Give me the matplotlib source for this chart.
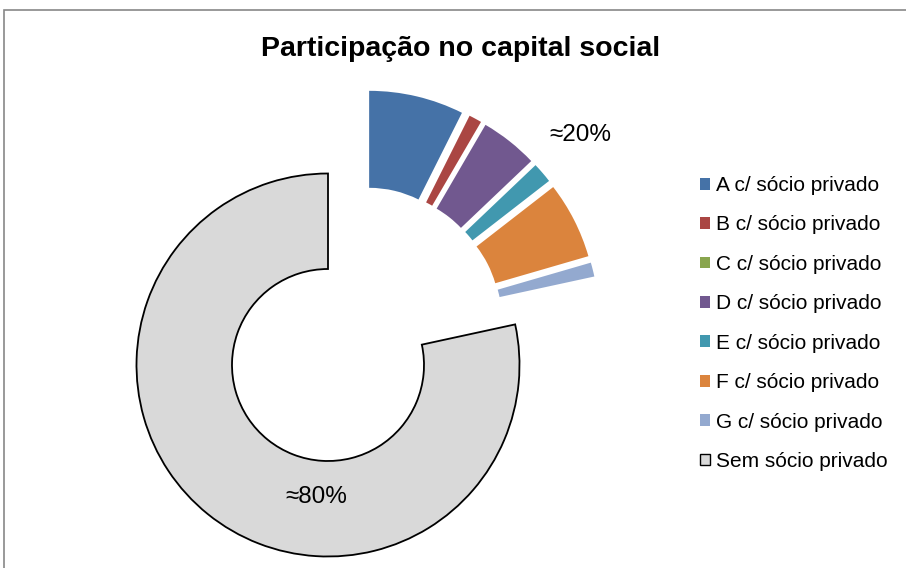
import matplotlib
matplotlib.use("Agg")
from matplotlib import pyplot as plt
from matplotlib.patches import Patch, Rectangle

plt.rcParams['font.family'] = ['Liberation Sans', 'DejaVu Sans']

# data (percent of companies)
labels = ["A c/ sócio privado", "B c/ sócio privado", "C c/ sócio privado",
          "D c/ sócio privado", "E c/ sócio privado", "F c/ sócio privado",
          "G c/ sócio privado", "Sem sócio privado"]
values = [7.4, 1.0, 0.0, 4.5, 1.6, 6.0, 1.1, 78.4]
colors = ["#4572A7", "#AA4643", "#89A54E", "#71588F", "#4198AF",
          "#DB843D", "#93A9CF", "#D9D9D9"]
title = "Participação no capital social"

fig = plt.figure(figsize=(9.06, 5.68), dpi=100)
ax = fig.add_axes([0, 0, 1, 1])

# gray ring (only the last slice visible)
w1, _ = ax.pie(values, startangle=90, counterclock=False,
               center=(328, 203), radius=191.5,
               wedgeprops=dict(width=95.5))
for i, w in enumerate(w1):
    if i == len(values) - 1:
        w.set_facecolor(colors[i])
        w.set_edgecolor("black")
        w.set_linewidth(1.3)
    else:
        w.set_visible(False)

# coloured slices, pulled out of the ring
explode = [31] * (len(values) - 1) + [0]
w2, _ = ax.pie(values, startangle=90, counterclock=False, explode=explode,
               center=(362, 240), radius=207,
               wedgeprops=dict(width=97, linewidth=0))
for i, w in enumerate(w2):
    if i == len(values) - 1 or values[i] == 0:
        w.set_visible(False)
    else:
        w.set_facecolor(colors[i])

ax.set_xlim(0, 906)
ax.set_ylim(0, 568)
ax.set_aspect("equal")
ax.axis("off")

ax.text(461, 568 - 49, title, ha="center", va="center",
        fontsize=20.5, fontweight="bold")
ax.text(580, 568 - 135, "≈20%", ha="center", va="center", fontsize=17.5)
ax.text(316, 568 - 497, "≈80%", ha="center", va="center", fontsize=17.5)

handles = []
for i, c in enumerate(colors):
    if i == len(colors) - 1:
        handles.append(Patch(facecolor=c, edgecolor="black", linewidth=1.0))
    else:
        handles.append(Patch(facecolor=c, edgecolor="none"))
fig.legend(handles, labels, loc="upper left", bbox_to_anchor=(700 / 906, 1 - 176 / 568),
           frameon=False, fontsize=15, handlelength=0.5, handleheight=0.5,
           handletextpad=0.25, labelspacing=0.98, borderaxespad=0, borderpad=0)

# chart border
fig.patches.append(Rectangle((4 / 906, -0.1), 1.2, 1 - 10 / 568 + 0.1,
                             transform=fig.transFigure, fill=False,
                             edgecolor="#888888", linewidth=1.2))

fig.savefig("out.png", dpi=100)
